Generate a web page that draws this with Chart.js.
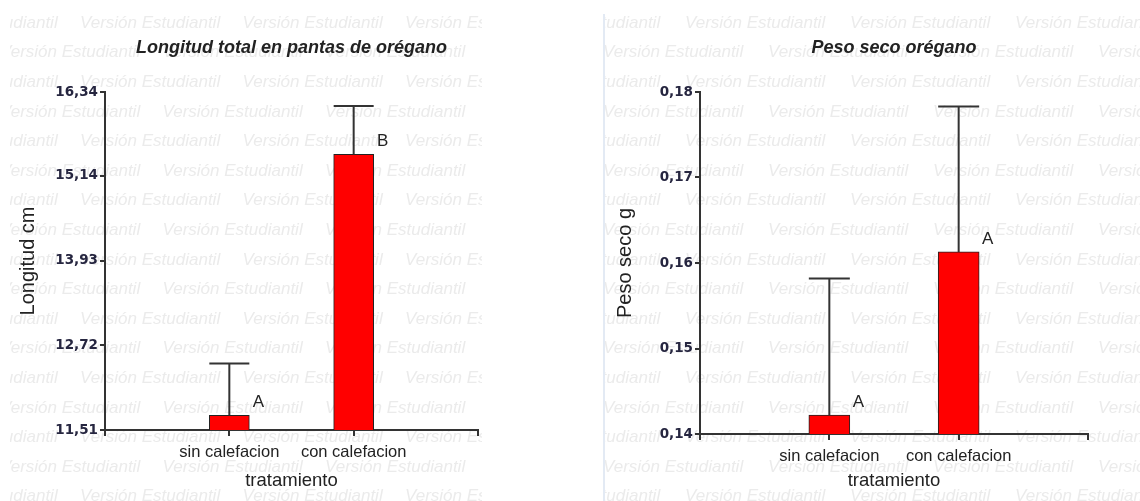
<!DOCTYPE html>
<html><head><meta charset="utf-8">
<script src="https://cdn.jsdelivr.net/npm/chart.js@4"></script>
<style>
html,body{margin:0;padding:0;background:#fff;width:1140px;height:501px;overflow:hidden}
.panel{position:absolute;top:0;height:501px}
#p1{left:0;width:490px}
#p2{left:603px;width:537px}
</style></head><body>
<div class="panel" id="p1"><canvas id="c1"></canvas></div>
<div class="panel" id="p2"><canvas id="c2"></canvas></div>
<script>
const categories = ['sin calefacion', 'con calefacion'];
const longitudMedia = [11.72, 15.45];
const longitudError = [0.74, 0.69];
const longitudLetras = ['A', 'B'];
const longitudTickValues = [11.51, 12.72, 13.93, 15.14, 16.34];
const longitudTickLabels = ['11,51', '12,72', '13,93', '15,14', '16,34'];
const pesoMedia = [0.1422, 0.1613];
const pesoError = [0.0160, 0.0170];
const pesoLetras = ['A', 'A'];
const pesoTickValues = [0.14, 0.15, 0.16, 0.17, 0.18];
const pesoTickLabels = ['0,14', '0,15', '0,16', '0,17', '0,18'];
const watermarkText = 'Versión Estudiantil';

const SANS = "'Liberation Sans', Arial, sans-serif";
const INK = '#222';
const AXIS = '#333';

const watermarkPlugin = {
  id: 'wm',
  beforeDraw(chart, args, o) {
    const ctx = chart.ctx;
    ctx.save();
    ctx.beginPath();
    ctx.rect(o.clip[0], o.clip[1], o.clip[2] - o.clip[0], o.clip[3] - o.clip[1]);
    ctx.clip();
    ctx.font = 'italic 17px ' + SANS;
    ctx.fillStyle = '#ebebeb';
    ctx.textBaseline = 'middle';
    ctx.textAlign = 'left';
    for (let k = 0; k < 17; k++) {
      const y = o.rowY0 + k * o.rowStep;
      const start = (k % 2 === 0) ? o.startA : o.startB;
      for (let x = start - o.period; x < o.clip[2]; x += o.period) {
        ctx.fillText(watermarkText, x, y);
      }
    }
    if (o.edge) {
      ctx.fillStyle = '#e3eaf4';
      ctx.fillRect(0, o.clip[1], 2, o.clip[3] - o.clip[1]);
    }
    ctx.restore();
  }
};

const errorPlugin = {
  id: 'err',
  afterDatasetsDraw(chart, args, o) {
    const ctx = chart.ctx;
    const ys = chart.scales.y;
    const meta = chart.getDatasetMeta(0);
    ctx.save();
    meta.data.forEach((bar, i) => {
      const idx = i - 1;
      if (idx < 0 || idx >= o.media.length) return;
      const top = ys.getPixelForValue(o.media[idx] + o.error[idx]);
      const half = bar.width / 2;
      ctx.strokeStyle = AXIS;
      ctx.lineWidth = 2;
      ctx.beginPath();
      ctx.moveTo(bar.x, bar.y);
      ctx.lineTo(bar.x, top);
      ctx.moveTo(bar.x - half, top);
      ctx.lineTo(bar.x + half, top);
      ctx.stroke();
      ctx.fillStyle = INK;
      ctx.font = '17px ' + SANS;
      ctx.textAlign = 'center';
      ctx.textBaseline = 'middle';
      ctx.fillText(o.letters[idx], bar.x + 29, bar.y - 13);
    });
    ctx.restore();
  }
};

function makeChart(id, c) {
  const labels = [''].concat(categories, ['']);
  const data = [null].concat(c.media, [null]);
  return new Chart(document.getElementById(id), {
    type: 'bar',
    data: {
      labels: labels,
      datasets: [{
        data: data,
        backgroundColor: '#ff0000',
        borderColor: '#222',
        borderWidth: 1,
        barThickness: c.barThickness
      }]
    },
    plugins: [watermarkPlugin, errorPlugin],
    options: {
      responsive: true,
      maintainAspectRatio: false,
      animation: false,
      events: [],
      layout: { padding: { left: 0, top: 0, right: c.canvasW - c.areaRight, bottom: 0 } },
      plugins: {
        legend: { display: false },
        tooltip: { enabled: false },
        title: {
          display: true,
          fullSize: false,
          text: c.title,
          color: INK,
          font: { family: SANS, size: 18, weight: 'bold', style: 'italic', lineHeight: 1.2 },
          padding: { top: 37, bottom: c.areaTop - 37 - 21.6 }
        },
        wm: c.wm,
        err: { media: c.media, error: c.error, letters: c.letters }
      },
      scales: {
        x: {
          type: 'category',
          offset: false,
          grid: { display: true, drawOnChartArea: false, drawTicks: true, tickLength: 6, color: AXIS, lineWidth: 2, offset: false },
          border: { display: true, color: AXIS, width: 2 },
          ticks: { color: INK, font: { family: SANS, size: 16.5 }, padding: 7, maxRotation: 0, autoSkip: false },
          title: { display: true, text: 'tratamiento', color: INK, font: { family: SANS, size: 18.5 }, padding: { top: 0, bottom: 9 } },
          afterFit(s) { s.height = 501 - c.areaBottom; }
        },
        y: {
          type: 'linear',
          min: c.tickValues[0],
          max: c.tickValues[c.tickValues.length - 1],
          beginAtZero: false,
          afterBuildTicks(s) { s.ticks = c.tickValues.map(v => ({ value: v })); },
          grid: { display: true, drawOnChartArea: false, drawTicks: true, tickLength: 5, color: AXIS, lineWidth: 2 },
          border: { display: true, color: AXIS, width: 2 },
          ticks: {
            color: '#262640',
            font: { family: "'DejaVu Sans', sans-serif", size: 13.5, weight: 'bold' },
            padding: 2,
            autoSkip: false,
            callback(value, index) { return c.tickLabels[index]; }
          },
          title: { display: true, text: c.yTitle, color: INK, font: { family: SANS, size: 20 }, padding: { top: c.yTitlePad, bottom: 0 } },
          afterFit(s) { s.width = c.areaLeft; }
        }
      }
    }
  });
}

makeChart('c1', {
  title: 'Longitud total en pantas de orégano',
  yTitle: 'Longitud cm',
  media: longitudMedia, error: longitudError, letters: longitudLetras,
  tickValues: longitudTickValues, tickLabels: longitudTickLabels,
  canvasW: 490, areaLeft: 105, areaRight: 478, areaTop: 92, areaBottom: 430,
  barThickness: 40, yTitlePad: 16,
  wm: { clip: [10, 8, 482, 501], rowY0: 23, rowStep: 29.6, startA: 80, startB: 0, period: 162.5, edge: false }
});

makeChart('c2', {
  title: 'Peso seco orégano',
  yTitle: 'Peso seco g',
  media: pesoMedia, error: pesoError, letters: pesoLetras,
  tickValues: pesoTickValues, tickLabels: pesoTickLabels,
  canvasW: 537, areaLeft: 97, areaRight: 485, areaTop: 92, areaBottom: 434,
  barThickness: 41, yTitlePad: 10,
  wm: { clip: [0, 14, 537, 501], rowY0: 23, rowStep: 29.6, startA: 82, startB: 0, period: 165, edge: true }
});
</script>
</body></html>
